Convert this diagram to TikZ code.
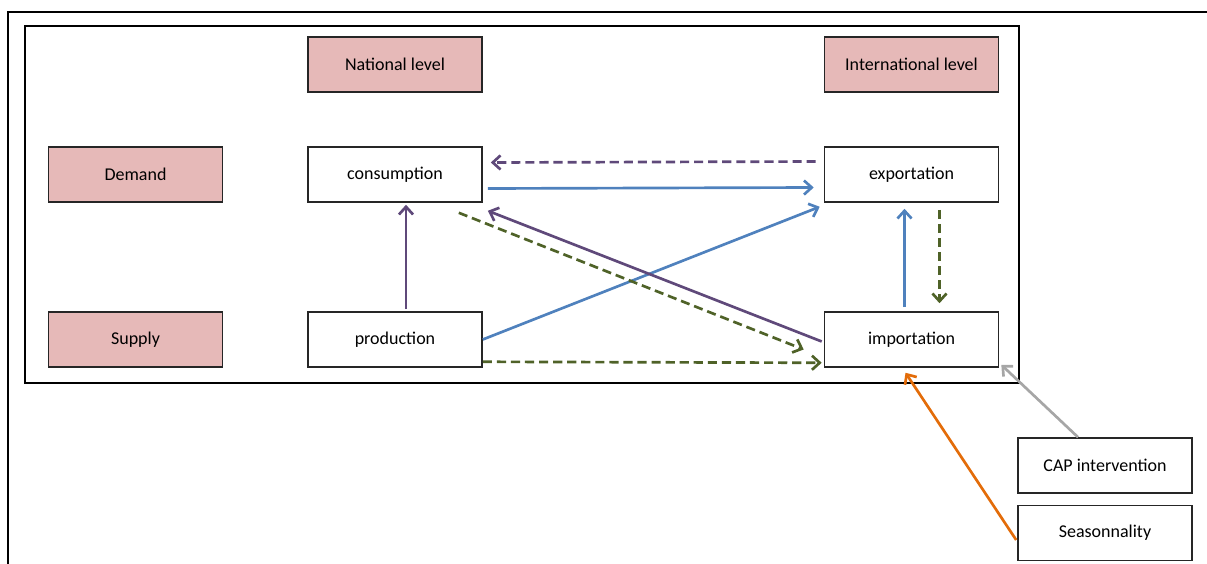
\documentclass[tikz,border=0pt]{standalone}
\usepackage{fontspec}
\setmainfont{Carlito}
\usepackage{tikz}
\usetikzlibrary{arrows.meta,calc}
\definecolor{boxpink}{HTML}{E6B9B8}
\definecolor{arrpurple}{HTML}{5F497A}
\definecolor{arrblue}{HTML}{4F81BD}
\definecolor{arrgreen}{HTML}{4F6228}
\definecolor{arrgray}{HTML}{A6A6A6}
\definecolor{arrorange}{HTML}{E36C09}

\begin{document}
\begin{tikzpicture}[x=0.025cm,y=-0.025cm,
        box/.style={draw=black!85,line width=1.1pt,minimum width=4.35cm,minimum height=1.375cm,
            inner sep=0pt,font=\fontsize{12.8}{15}\selectfont},
        pinkbox/.style={box,fill=boxpink},
        arr/.style={line width=1.9pt,-{Straight Barb[length=5.5pt,width=10pt,line width=1.9pt]}},
        dasharr/.style={arr,dash pattern=on 6.5pt off 3.5pt}]
        \useasboundingbox (0,0) rectangle (1207,564);
        \draw[line width=1.2pt] (8,564) -- (8,12) -- (1207,12);
        \draw[line width=1.2pt] (25,26) rectangle (1019,383);
        % headings
        \node[pinkbox] (natlevel) at (395,64.5) {National level};
        \node[pinkbox] (intlevel) at (911.5,64.5) {International level};
        \node[pinkbox] (demand) at (135.5,174.5) {Demand};
        \node[pinkbox] (supply) at (135.5,339.5) {Supply};
        % flows
        \node[box] (consumption) at (395,174.5) {consumption};
        \node[box] (exportation) at (911.5,174.5) {exportation};
        \node[box] (production) at (395,339.5) {production};
        \node[box] (importation) at (911.5,339.5) {importation};
        \node[box] (cap) at (1105,465.5) {CAP intervention};
        \node[box] (season) at (1105,533) {Seasonnality};
        % arrows
        \draw[dasharr,arrpurple] ($(exportation.west)+(-8,-13)$) -- ($(consumption.east)+(8,-12)$);
        \draw[arr,arrblue] ($(consumption.east)+(5,14)$) -- ($(exportation.west)+(-10,13)$);
        \draw[arr,arrblue] (production.east) -- ($(exportation.south west)+(-4,4)$);
        \draw[arr,arrpurple] ($(importation.west)+(-2,2)$) -- ($(consumption.south east)+(5,8)$);
        \draw[dasharr,arrgreen] ($(consumption.south east)+(-24,10)$) -- ($(importation.west)+(-20,10)$);
        \draw[dasharr,arrgreen] ($(production.south east)+(0,-6)$) -- ($(importation.south west)+(-2,-5)$);
        \draw[arr,arrpurple] ($(production.north)+(11,-2)$) -- ($(consumption.south)+(11,2)$);
        \draw[arr,arrblue] ($(importation.north)+(-7,-4)$) -- ($(exportation.south)+(-7,6)$);
        \draw[dasharr,arrgreen] ($(exportation.south)+(28,7)$) -- ($(importation.north)+(28,-8)$);
        \draw[arr,arrgray] ($(cap.north)+(-27,0)$) -- ($(importation.south east)+(2,-3)$);
        \draw[arr,arrorange] ($(season.west)+(-1,7)$) -- ($(importation.south)+(-6,5)$);
\end{tikzpicture}
\end{document}
